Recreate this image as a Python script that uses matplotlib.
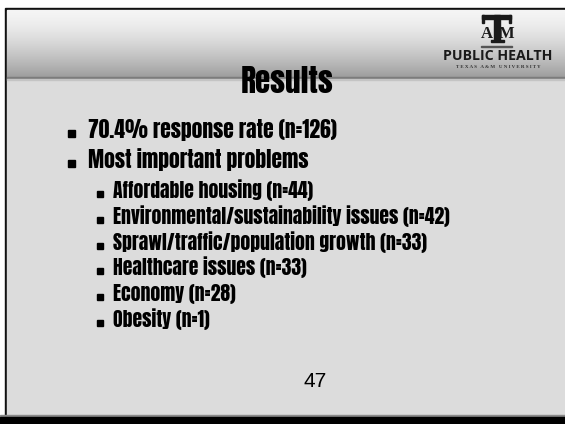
import numpy as np
import matplotlib
matplotlib.use("Agg")
import matplotlib.pyplot as plt
from matplotlib import font_manager as fm
from matplotlib.patches import Rectangle

# ---- data ----
title = "Results"
response_rate = 70.4
n_total = 126
section_label = "Most important problems"
problems = ["Affordable housing", "Environmental/sustainability issues",
            "Sprawl/traffic/population growth", "Healthcare issues",
            "Economy", "Obesity"]
counts = [44, 42, 33, 33, 28, 1]
page_number = "47"

# ---- fonts ----
names = {f.name for f in fm.fontManager.ttflist}
if "Anton" in names:
    HEAVY = dict(family=["Anton", "DejaVu Sans"])
elif "Barlow Condensed" in names:
    HEAVY = dict(family=["Barlow Condensed", "DejaVu Sans"], weight=800)
else:
    HEAVY = dict(family=["DejaVu Sans"], weight="bold")
REG = dict(family=["Liberation Sans", "DejaVu Sans"])
SERIF = dict(family=["Liberation Serif", "DejaVu Serif"], weight="bold")
LOGO_SANS = dict(family=["Open Sans", "DejaVu Sans"], weight="bold")

W, H = 565, 424
fig = plt.figure(figsize=(W / 100, H / 100), dpi=100)
ax = fig.add_axes([0, 0, 1, 1])
ax.set_xlim(0, W)
ax.set_ylim(H, 0)
ax.axis("off")
fig.patch.set_facecolor("white")

# ---- background ----
ax.add_patch(Rectangle((0, 0), W, H, color="white", zorder=0))
ax.add_patch(Rectangle((5, 8), W, 410, color="#111111", zorder=1))
ax.add_patch(Rectangle((7, 10), W, 406, color="#dcdcdc", zorder=2))
t = np.linspace(0, 1, 200) ** 1.5
g = 0.96 - t * (0.96 - 0.62)
grad = np.repeat(g[:, None], 2, axis=1)
ax.imshow(np.dstack([grad, grad, grad]), extent=(7, W, 77, 10), aspect="auto",
          interpolation="bilinear", zorder=3)
ax.add_patch(Rectangle((7, 76.5), W, 2.5, color="#7c7c7c", zorder=4))
ax.add_patch(Rectangle((7, 79), W, 1.2, color="#c4c4c4", zorder=4))
ax.add_patch(Rectangle((0, 415), W, 2, color="#8a8a8a", zorder=4))
ax.add_patch(Rectangle((0, 417), W, 7, color="black", zorder=4))

# ---- logo ----
ink = "#1a1a1a"
ax.add_patch(Rectangle((482, 15), 29, 4, color=ink, zorder=6))
ax.add_patch(Rectangle((482, 15), 2, 8, color=ink, zorder=6))
ax.add_patch(Rectangle((509, 15), 2, 8, color=ink, zorder=6))
ax.add_patch(Rectangle((494, 15), 6, 26, color=ink, zorder=6))
ax.add_patch(Rectangle((490.5, 40), 13, 2.2, color=ink, zorder=6))
ax.text(487, 38.5, "A", fontsize=12, ha="center", va="baseline", color=ink, zorder=6, **SERIF)
ax.text(507, 38.5, "M", fontsize=12, ha="center", va="baseline", color=ink, zorder=6, **SERIF)
ax.add_patch(Rectangle((481, 45.5), 31, 1.3, color="#555555", zorder=6))
ax.text(498, 60, "PUBLIC HEALTH", fontsize=10.2, ha="center", va="baseline",
        color=ink, zorder=6, **LOGO_SANS)
ax.text(498.5, 68.5, "T E X A S   A & M   U N I V E R S I T Y", fontsize=3.6, ha="center",
        va="baseline", color="#333333", zorder=6, **SERIF)

# ---- title ----
ax.text(287, 93, title, fontsize=22.5, ha="center", va="baseline", color="black", zorder=7, **HEAVY)

# ---- bullets ----
lvl1_base = [138, 168]
lvl1_text = [f"{response_rate}% response rate (n={n_total})", section_label]
for yb, s in zip(lvl1_base, lvl1_text):
    ax.add_patch(Rectangle((68.3, yb - 8), 6.7, 6.7, color="black", zorder=7))
    ax.text(88, yb, s, fontsize=15.5, ha="left", va="baseline", color="black", zorder=7, **HEAVY)

lvl2_base = [198, 224, 250, 275.5, 301, 327]
for yb, p, c in zip(lvl2_base, problems, counts):
    ax.add_patch(Rectangle((97, yb - 7.5), 6.3, 6.3, color="black", zorder=7))
    ax.text(113, yb, f"{p} (n={c})", fontsize=14.1, ha="left", va="baseline",
            color="black", zorder=7, **HEAVY)

# ---- page number ----
ax.text(315, 387, page_number, fontsize=15, ha="center", va="baseline", color="black", zorder=7, **REG)

fig.savefig("out.png", dpi=100)
